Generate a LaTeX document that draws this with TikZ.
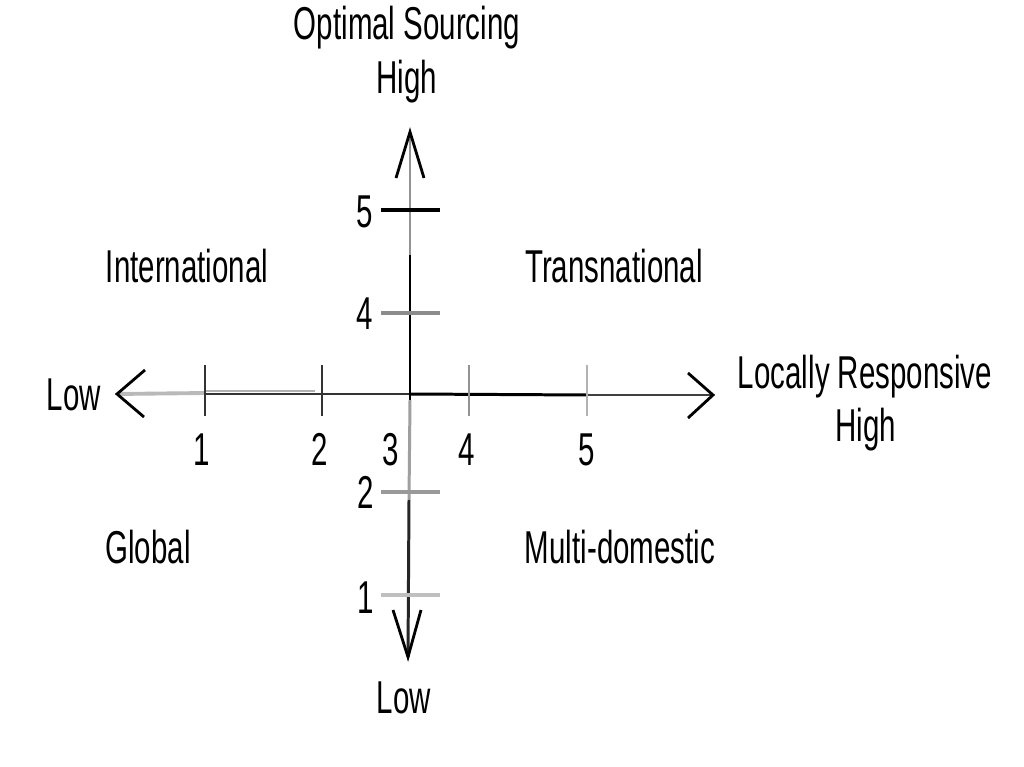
\documentclass[tikz,border=0pt]{standalone}
\usepackage{fontspec}
\setmainfont[FakeStretch=0.64]{Liberation Sans}
\begin{document}
\begin{tikzpicture}[x=0.01cm,y=-0.01cm,
  lbl/.style={inner sep=0pt,anchor=base,font=\fontsize{13.1}{15}\selectfont},
  axisline/.style={line width=0.85pt},
  tickx/.style={line width=0.7pt},
  ticky/.style={line width=1.1pt},
  head/.style={line width=0.8pt,line join=miter}]
\useasboundingbox[fill=white] (0,0) rectangle (1024,767);
% axis coordinates
\coordinate (L) at (117,394);
\coordinate (R) at (713,395);
\coordinate (T) at (410,132);
\coordinate (B) at (408,657);
\coordinate (O) at (409,394);
% horizontal axis
\draw[axisline,gray!55,line width=1.1pt] (L) -- (205,393);
\draw[axisline,gray!60] (205,391) -- (315,391);
\draw[axisline,black!80] (205,394) -- (O);
\draw[axisline,black] (O) -- (588,395);
\draw[axisline,black!75] (588,395) -- (R);
\draw[head] (145,370) -- (L) -- (144,417);
\draw[head] (688,373) -- (R) -- (688,418);
% vertical axis
\draw[axisline,gray!85] (T) -- (410,255);
\draw[axisline,black] (410,255) -- (410,400);
\draw[axisline,gray!75] (410,400) -- (409,500);
\draw[axisline,black!85] (409,500) -- (B);
\draw[head] (396,178) -- (T) -- (424,178);
\draw[head] (393,610) -- (B) -- (421,610);
% x ticks
\draw[tickx,black!80] (205,365) -- (205,416);
\draw[tickx,black!80] (322,365) -- (322,416);
\draw[tickx,gray!85] (469,365) -- (469,416);
\draw[tickx,gray!60] (587,365) -- (587,416);
% y ticks
\draw[ticky,black] (381,210) -- (440,210);
\draw[ticky,gray!90] (381,313) -- (440,313);
\draw[ticky,gray!80,line width=1.3pt] (381,492) -- (440,492);
\draw[ticky,gray!50,line width=1.3pt] (381,595) -- (440,595);
% x tick labels
\node[lbl] (x1) at (202,465) {1};
\node[lbl] (x2) at (320,465) {2};
\node[lbl] (x3) at (391,465) {3};
\node[lbl] (x4) at (467,465) {4};
\node[lbl] (x5) at (587,465) {5};
% y tick labels
\node[lbl] (y5) at (365,228) {5};
\node[lbl] (y4) at (365,330) {4};
\node[lbl] (y2) at (366,508) {2};
\node[lbl] (y1) at (366,613) {1};
% axis titles
\node[lbl] (ost) at (407,40) {Optimal Sourcing};
\node[lbl] (osh) at (407,94) {High};
\node[lbl] (osl) at (404,713) {Low};
\node[lbl] (lrl) at (74,410) {Low};
\node[lbl] (lrt) at (865,388) {Locally Responsive};
\node[lbl] (lrh) at (866,441) {High};
% quadrant labels
\node[lbl] (intl) at (187,282) {International};
\node[lbl] (trans) at (614,282) {Transnational};
\node[lbl] (glob) at (148,563) {Global};
\node[lbl] (multi) at (620,563) {Multi-domestic};
\end{tikzpicture}
\end{document}
